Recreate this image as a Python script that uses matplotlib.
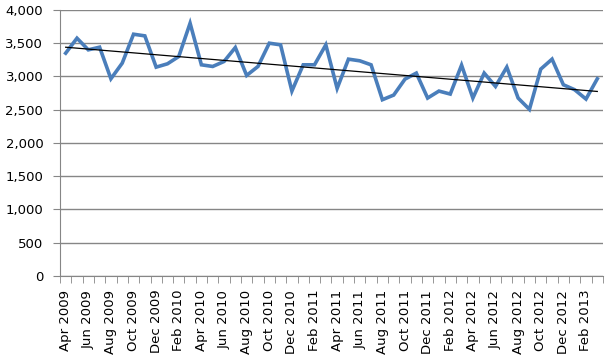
import numpy as np
import matplotlib
matplotlib.use('Agg')
import matplotlib.pyplot as plt
from matplotlib.ticker import FuncFormatter

# Monthly values, Apr 2009 .. Mar 2013
months = ['Apr', 'May', 'Jun', 'Jul', 'Aug', 'Sep', 'Oct', 'Nov', 'Dec',
          'Jan', 'Feb', 'Mar'] * 4
years = [2009] * 9 + [2010] * 12 + [2011] * 12 + [2012] * 12 + [2013] * 3
labels = [f'{m} {y}' for m, y in zip(months, years)]

values = [3350, 3575, 3400, 3440, 2965, 3200, 3635, 3610, 3140,
          3190, 3300, 3800, 3175, 3150, 3225, 3435, 3015, 3150, 3500, 3475, 2780,
          3175, 3175, 3475, 2820, 3260, 3235, 3175, 2650, 2720, 2960, 3050, 2675,
          2780, 2735, 3170, 2675, 3050, 2850, 3140, 2675, 2505, 3110, 3260, 2875,
          2800, 2660, 2965]

x = np.arange(len(values))
slope, intercept = np.polyfit(x, values, 1)

fig = plt.figure(figsize=(6.08, 3.61), dpi=100)
ax = fig.add_axes([0.0987, 0.2355, 0.893, 0.737])

ax.plot(x, values, color='#4A7EBB', linewidth=2.6, solid_joinstyle='miter', zorder=3)
ax.plot(x, slope * x + intercept, color='black', linewidth=0.9, zorder=4)

ax.set_xlim(-0.5, len(values) - 0.5)
ax.set_ylim(0, 4000)
ax.set_yticks(np.arange(0, 4001, 500))
ax.yaxis.set_major_formatter(FuncFormatter(lambda v, p: f'{int(v):,}'))
ax.grid(axis='y', color='#868686', linewidth=1.0)
ax.set_axisbelow(True)

ax.set_xticks(x[::2])
ax.set_xticklabels(labels[::2], rotation=90)
ax.set_xticks(np.arange(-0.5, len(values)), minor=True)
ax.tick_params(axis='x', which='major', length=0, pad=10, labelsize=9.5)
ax.tick_params(axis='x', which='minor', length=5, color='#868686', direction='out')
ax.tick_params(axis='y', length=5, color='#868686', labelsize=9.5, pad=7)

for s in ['top', 'right']:
    ax.spines[s].set_visible(False)
for s in ['left', 'bottom']:
    ax.spines[s].set_color('#868686')

fig.savefig('out.png', dpi=100)
